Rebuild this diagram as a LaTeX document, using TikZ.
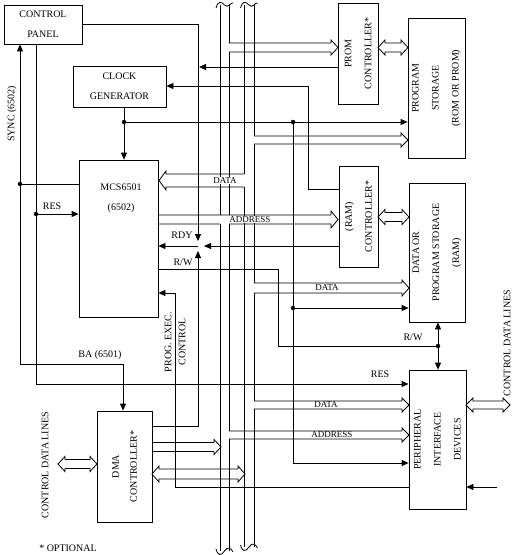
\documentclass[tikz,border=0pt]{standalone}
\usepackage{fontspec}
\setmainfont{Liberation Serif}
\usetikzlibrary{arrows.meta}
% hollow bus arrows: start x, tip x, centre y, half width
\newcommand{\hollowR}[4]{\draw (#1,#3-#4) -- (#2-7,#3-#4) -- (#2-7,#3-#4-3) -- (#2,#3) -- (#2-7,#3+#4+3) -- (#2-7,#3+#4) -- (#1,#3+#4);}
\newcommand{\hollowL}[4]{\draw (#1,#3-#4) -- (#2+7,#3-#4) -- (#2+7,#3-#4-3) -- (#2,#3) -- (#2+7,#3+#4+3) -- (#2+7,#3+#4) -- (#1,#3+#4);}
\newcommand{\hollowLR}[4]{\draw (#1,#3) -- (#1+7,#3-#4-3) -- (#1+7,#3-#4) -- (#2-7,#3-#4) -- (#2-7,#3-#4-3) -- (#2,#3) -- (#2-7,#3+#4+3) -- (#2-7,#3+#4) -- (#1+7,#3+#4) -- (#1+7,#3+#4+3) -- cycle;}
\begin{document}
\begin{tikzpicture}[x=1pt, y=-1pt, line width=.8pt, >={Triangle[length=7pt,width=6pt]},
    font=\fontsize{10}{20}\selectfont, inner sep=1pt,
    box/.style={draw, inner sep=0pt},
    lbl/.style={fill=white, inner sep=.4pt, font=\fontsize{9}{10}\selectfont},
    dot/.style={circle, fill, inner sep=0pt, minimum size=4.5pt}]
    \useasboundingbox (0,0) rectangle (512,555);
    % blocks
    \node[box, align=center, minimum width=78pt, minimum height=39pt] (cp) at (43,24.5) {CONTROL\\PANEL};
    \node[box, align=center, minimum width=93pt, minimum height=41pt] (clk) at (119.5,86.5) {CLOCK\\GENERATOR};
    \node[box, minimum width=79pt, minimum height=157pt] (mcs) at (118.5,238.5) {};
    \node[align=center] (mcst) at (121,198) {MCS6501\\(6502)};
    \node[box, minimum width=40pt, minimum height=101pt] (promc) at (358,53.5) {};
    \node[rotate=90, align=center] (promct) at (promc) {PROM\\CONTROLLER*};
    \node[box, minimum width=57pt, minimum height=140pt] (prog) at (436.5,88) {};
    \node[rotate=90, align=center] (progt) at (prog) {PROGRAM\\STORAGE\\(ROM OR PROM)};
    \node[box, minimum width=39pt, minimum height=101pt] (ramc) at (358.5,216.5) {};
    \node[rotate=90, align=center] (ramct) at (ramc) {(RAM)\\CONTROLLER*};
    \node[box, minimum width=56pt, minimum height=139pt] (ram) at (437,252.5) {};
    \node[rotate=90, align=center] (ramt) at (ram) {DATA OR\\PROGRAM STORAGE\\(RAM)};
    \node[box, minimum width=57pt, minimum height=139pt] (pid) at (437.5,439.5) {};
    \node[rotate=90, align=center] (pidt) at (pid) {PERIPHERAL\\INTERFACE\\DEVICES};
    \node[box, minimum width=55pt, minimum height=111pt] (dma) at (124.5,466.5) {};
    \node[rotate=90, align=center, font=\fontsize{10}{18}\selectfont] (dmat) at (dma) {DMA\\CONTROLLER*};
    % address bus
    \draw (216,8) .. controls (218,1) and (221,1) .. (224.5,5) .. controls (228,9) and (231,2) .. (233,3);
    \draw (220,5) -- (220,215) (220,224) -- (220,551)
          (229,5) -- (229,43) (229,52) -- (229,215) (229,224) -- (229,431) (229,439) -- (229,551);
    \draw (216,549) .. controls (218,556) and (221,556) .. (224.5,551) .. controls (228,546) and (231,548) .. (233,552);
    % data bus
    \draw (240.5,8) .. controls (242.5,1) and (245.5,1) .. (249,5) .. controls (252.5,9) and (255.5,2) .. (257.5,3);
    \draw (244,5) -- (244,174) (244,187) -- (244,547)
          (254,5) -- (254,136) (254,144) -- (254,283) (254,293) -- (254,401) (254,409) -- (254,547);
    \draw (240.5,545) .. controls (242.5,552) and (245.5,552) .. (249,547) .. controls (252.5,542) and (255.5,544) .. (257.5,548);
    % bus branches
    \hollowR{229}{338}{47.5}{4.5}
    \hollowR{254}{408}{140}{4}
    \hollowL{244}{159}{180.5}{6.5}
    \draw (mcs.east |- 0,215) -- (331,215) -- (331,211) -- (338,219.5) -- (331,228) -- (331,224) -- (229,224)
          (220,224) -- (mcs.east |- 0,224);
    \hollowR{254}{409}{288}{5}
    \hollowR{254}{409}{405}{4}
    \hollowR{229}{409}{435}{4}
    \hollowR{152}{221}{447}{4.5}
    \hollowLR{152}{245}{474}{5}
    \hollowLR{58}{97}{464}{4.5}
    \hollowLR{378}{408}{47.5}{4.5}
    \hollowLR{378}{409}{217}{4.5}
    \hollowLR{466}{510}{405}{4}
    \node[lbl] (dl1) at (225,180.5) {DATA};
    \node[lbl] (al1) at (250,219.5) {ADDRESS};
    \node[lbl] (dl2) at (327,288) {DATA};
    \node[lbl] (dl3) at (326,405) {DATA};
    \node[lbl] (al2) at (332,435) {ADDRESS};
    % clock
    \coordinate (ck) at (124,122);
    \coordinate (ck2) at (293,122);
    \coordinate (ck3) at (293,308);
    \draw[->] (clk.south -| ck) -- (mcs.north -| ck);
    \draw[->] (ck) -- (prog.west |- ck);
    \draw[->] (ck2) -- (293,463) -- (pid.west |- 0,463);
    \draw[->] (ck3) -- (ram.west |- ck3);
    \node[dot] (d1) at (ck) {};
    \node[dot] (d2) at (ck2) {};
    \node[dot] (d3) at (ck3) {};
    % sync and ba
    \coordinate (sy) at (20,184);
    \draw (mcs.west |- sy) -- (sy);
    \draw[->] (sy) -- (cp.south -| sy);
    \draw[->] (sy) -- (20,364) -- (123,364) -- (dma.north -| 123,0);
    \node[dot] (d4) at (sy) {};
    % res
    \coordinate (rs) at (36,214);
    \draw[->] (cp.south -| rs) -- (36,384) -- (pid.west |- 0,384);
    \draw[->] (rs) -- (mcs.west |- rs);
    \node[dot] (d5) at (rs) {};
    % rdy
    \coordinate (rdy) at (198,246);
    \draw[->] (cp.east |- 0,24) -- (198,24) -- (198,241);
    \draw[->] (promc.west |- 0,67) -- (199,67);
    \draw[->] (ramc.west |- rdy) -- (204,246);
    \draw[->] (dma.east |- 0,426) -- (198,426) -- (198,251);
    \draw[->] (rdy) -- (mcs.east |- rdy);
    % clock stretch
    \draw[->] (ramc.west |- 0,189) -- (308,189) -- (308,86) -- (clk.east |- 0,86);
    % r/w
    \coordinate (rw) at (438,346);
    \draw (mcs.east |- 0,269) -- (278,269) -- (278,346) -- (rw);
    \draw[->] (rw) -- (ram.south -| rw);
    \draw[->] (rw) -- (pid.north -| rw);
    \node[dot] (d6) at (rw) {};
    % prog. exec. control
    \draw[->] (pid.west |- 0,487) -- (175,487) -- (175,293) -- (mcs.east |- 0,293);
    \draw[->] (497,487) -- (pid.east |- 0,487);
    % labels
    \node (rdyl) at (182,235) {RDY};
    \node (rwl1) at (183,262) {R/W};
    \node (resl1) at (52,206) {RES};
    \node (resl2) at (380,374) {RES};
    \node (bal) at (100,355) {BA (6501)};
    \node (rwl2) at (413,337) {R/W};
    \node[rotate=90] (syl) at (12,114) {SYNC (6502)};
    \node[rotate=90, align=center, font=\fontsize{10}{14}\selectfont] (pecl) at (175,342) {PROG. EXEC.\\CONTROL};
    \node[rotate=90] (cdl1) at (45,465) {CONTROL DATA LINES};
    \node[rotate=90] (cdl2) at (507,343) {CONTROL DATA LINES};
    \node (optl) at (68,548) {* OPTIONAL};
\end{tikzpicture}
\end{document}
